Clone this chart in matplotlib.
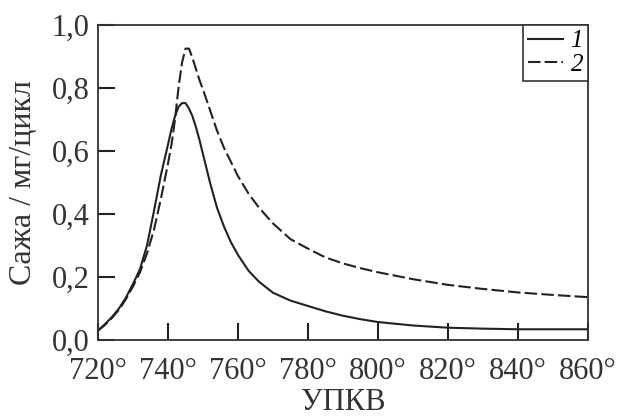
import numpy as np
import matplotlib.pyplot as plt
from matplotlib.ticker import FuncFormatter

# crank angle, degrees
angle = [720, 722, 724, 726, 728, 730, 732, 734, 736, 738, 740, 741, 742, 743,
         744, 745, 746, 747, 748, 749, 750, 752, 754, 756, 758, 760, 763, 766,
         770, 775, 780, 785, 790, 795, 800, 810, 820, 830, 840, 850, 860]

# soot, mg/cycle
soot_1 = [0.030, 0.050, 0.073, 0.100, 0.135, 0.178, 0.225, 0.300, 0.410, 0.525,
          0.620, 0.670, 0.710, 0.740, 0.752, 0.752, 0.735, 0.710, 0.675, 0.635,
          0.590, 0.500, 0.420, 0.360, 0.310, 0.270, 0.220, 0.185, 0.150, 0.125,
          0.108, 0.091, 0.077, 0.066, 0.057, 0.046, 0.039, 0.036, 0.034, 0.034,
          0.034]
soot_2 = [0.030, 0.048, 0.070, 0.096, 0.130, 0.170, 0.215, 0.275, 0.350, 0.450,
          0.560, 0.620, 0.700, 0.800, 0.880, 0.925, 0.925, 0.895, 0.860, 0.825,
          0.795, 0.730, 0.665, 0.610, 0.565, 0.520, 0.465, 0.420, 0.370, 0.320,
          0.290, 0.262, 0.243, 0.228, 0.215, 0.193, 0.175, 0.162, 0.151, 0.143,
          0.136]

x_ticks = [720, 740, 760, 780, 800, 820, 840, 860]
y_ticks = [0.0, 0.2, 0.4, 0.6, 0.8, 1.0]

plt.rcParams['font.family'] = ['Liberation Serif', 'DejaVu Serif']
plt.rcParams['font.size'] = 22
plt.rcParams['xtick.direction'] = 'in'
plt.rcParams['ytick.direction'] = 'in'

fig = plt.figure(figsize=(6.19, 4.2), dpi=100)
ax = fig.add_axes([0.1583, 0.1905, 0.7916, 0.75])

line_col = '#222222'
ax.plot(angle, soot_1, color=line_col, linewidth=1.5, label='1')
ax.plot(angle, soot_2, color=line_col, linewidth=1.5, dashes=(6, 2), label='2')

ax.set_xlim(720, 860)
ax.set_ylim(0, 1.0)
ax.set_xticks(x_ticks)
ax.set_yticks(y_ticks)
ax.xaxis.set_major_formatter(FuncFormatter(lambda v, p: f'{v:.0f}°'))
ax.yaxis.set_major_formatter(FuncFormatter(lambda v, p: f'{v:.1f}'.replace('.', ',')))
ax.tick_params(axis='both', which='major', direction='in', length=12,
               width=1.5, color='#222222', labelcolor='#333333', labelsize=22,
               zorder=5)
ax.tick_params(axis='x', pad=12)
ax.tick_params(axis='y', pad=6)

for s in ax.spines.values():
    s.set_linewidth(1.3)
    s.set_color('#333333')

ax.set_xlabel('УПКВ', color='#333333', fontsize=22, labelpad=2)
ax.set_ylabel('Сажа / мг/цикл', color='#333333', fontsize=23, labelpad=10)

leg = ax.legend(loc='upper right', borderaxespad=0, fancybox=False,
                framealpha=1, edgecolor='#333333', handlelength=1.4,
                handletextpad=0.3, borderpad=0.2, labelspacing=0.05,
                prop={'family': 'Liberation Serif', 'style': 'italic', 'size': 18})
leg.get_frame().set_linewidth(1.2)

fig.savefig('out.png', dpi=100)
